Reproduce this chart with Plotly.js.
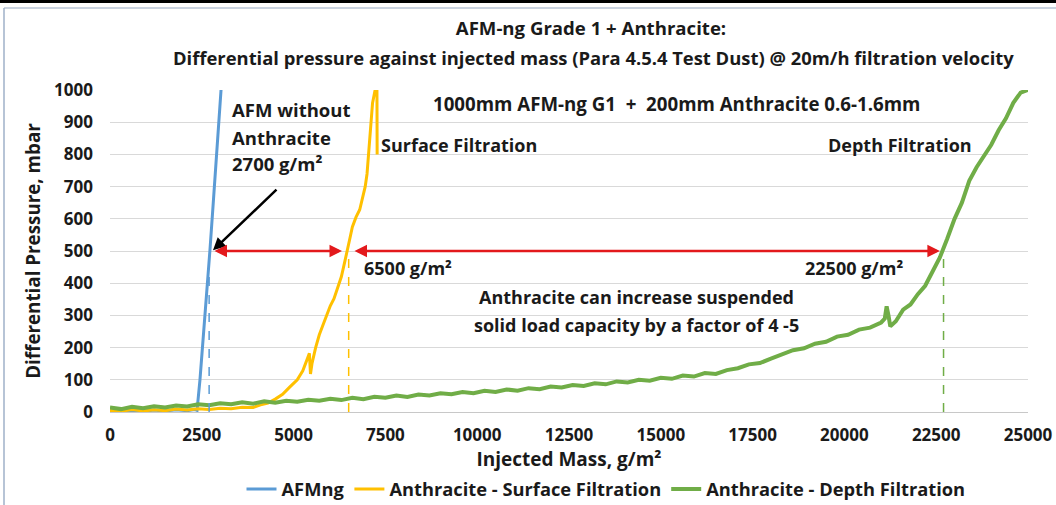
<!DOCTYPE html>
<html><head><meta charset="utf-8">
<script src="https://cdn.plot.ly/plotly-3.0.1.min.js"></script>
<style>html,body{margin:0;padding:0;background:#fff;}#chart{width:1056px;height:505px;}</style>
</head><body><div id="chart"></div>
<script>
// ---- data ----
const seriesNames = ['AFMng', 'Anthracite - Surface Filtration', 'Anthracite - Depth Filtration'];

const afmX = [0, 300, 600, 900, 1200, 1500, 1800, 2100, 2300, 2370, 2450, 2550, 2650, 2720, 2800, 2900, 3020, 3060];
const afmY = [3, 0, 5, 2, 6, 3, 7, 4, 8, 5, 100, 240, 400, 500, 630, 800, 1000, 1060];

const surfX = [0, 300, 600, 900, 1200, 1500, 1800, 2100, 2400, 2700, 3000, 3300, 3600, 3900, 4100, 4300, 4500, 4700, 4900, 5100, 5250, 5350, 5430, 5460, 5500, 5600, 5700, 5800, 5900, 6000, 6100, 6200, 6300, 6400, 6450, 6500, 6550, 6600, 6700, 6800, 6850, 6950, 7000, 7050, 7100, 7150, 7220, 7250, 7270, 7275];
const surfY = [5, 2, 8, 3, 7, 4, 9, 6, 10, 8, 12, 10, 15, 14, 22, 28, 40, 55, 78, 100, 128, 158, 182, 118, 150, 200, 240, 270, 300, 330, 352, 385, 420, 470, 500, 520, 548, 575, 605, 628, 650, 700, 740, 820, 900, 960, 1000, 1080, 1000, 800];

const depthX = [0, 300, 600, 900, 1200, 1500, 1800, 2100, 2400, 2700, 3000, 3300, 3600, 3900, 4200, 4500, 4800, 5100, 5400, 5700, 6000, 6300, 6600, 6900, 7200, 7500, 7800, 8100, 8400, 8700, 9000, 9300, 9600, 9900, 10200, 10500, 10800, 11100, 11400, 11700, 12000, 12300, 12600, 12900, 13200, 13500, 13800, 14100, 14400, 14700, 15000, 15300, 15600, 15900, 16200, 16500, 16800, 17100, 17400, 17700, 18000, 18300, 18600, 18900, 19200, 19500, 19800, 20100, 20400, 20700, 21000, 21100, 21150, 21200, 21250, 21400, 21600, 21800, 22000, 22200, 22400, 22600, 22800, 23000, 23200, 23400, 23600, 23800, 24000, 24200, 24400, 24600, 24800, 25000];
const depthY = [14, 9, 16, 12, 18, 14, 20, 17, 24, 21, 27, 24, 30, 26, 33, 29, 35, 32, 38, 35, 41, 37, 44, 40, 47, 44, 51, 47, 54, 51, 58, 55, 62, 58, 66, 62, 70, 66, 74, 71, 79, 76, 84, 81, 89, 86, 95, 92, 100, 97, 106, 103, 113, 110, 121, 118, 130, 136, 148, 152, 166, 178, 192, 198, 212, 218, 234, 240, 256, 262, 278, 290, 328, 300, 266, 282, 318, 334, 366, 392, 436, 480, 538, 600, 650, 718, 760, 795, 830, 875, 912, 960, 992, 1000];

// break-through points (g/m²) at the reference pressure (mbar)
const breakX = [2700, 6500, 22700];
const breakY = 500;

const xTicks = [0, 2500, 5000, 7500, 10000, 12500, 15000, 17500, 20000, 22500, 25000];
const yTicks = [0, 100, 200, 300, 400, 500, 600, 700, 800, 900, 1000];

// ---- styling ----
const colors = ['#5B9BD5', '#FFC000', '#70AD47'];
const FONT = 'Open Sans, Noto Sans, sans-serif';
const TXT = '#1a1a1a';

const traces = [
  {x: afmX, y: afmY, name: seriesNames[0], type: 'scatter', mode: 'lines', line: {color: colors[0], width: 3}},
  {x: surfX, y: surfY, name: seriesNames[1], type: 'scatter', mode: 'lines', line: {color: colors[1], width: 3}},
  {x: depthX, y: depthY, name: seriesNames[2], type: 'scatter', mode: 'lines', line: {color: colors[2], width: 4}}
];

// plot area geometry for paper-referenced frame shapes
const ML = 110, MR = 28, MT = 90, MB = 93, W = 1056, H = 505;
const PW = W - ML - MR, PH = H - MT - MB;
const px = v => (v - ML) / PW;
const py = v => (H - MB - v) / PH;

const shapes = breakX.map((bx, i) => ({
  type: 'line', xref: 'x', yref: 'y', x0: bx, x1: bx, y0: 0, y1: breakY,
  line: {color: colors[i], width: 1.5, dash: 'dash'}
}));
shapes.push({type: 'rect', xref: 'paper', yref: 'paper', x0: px(0), x1: px(W), y0: py(0), y1: py(3), fillcolor: '#000', line: {width: 0}, layer: 'above'});
shapes.push({type: 'line', xref: 'paper', yref: 'paper', x0: px(4), x1: px(W), y0: py(8), y1: py(8), line: {color: '#b8c4d6', width: 1.5}});
shapes.push({type: 'line', xref: 'paper', yref: 'paper', x0: px(4), x1: px(4), y0: py(8), y1: py(H), line: {color: '#9fb0c8', width: 1.5}});

function txt(text, x, y, size, anchor) {
  return {text: text, x: x, y: y, xref: 'x', yref: 'y', showarrow: false,
    xanchor: anchor || 'center', yanchor: 'middle',
    font: {family: FONT, size: size || 18, color: TXT, weight: 'bold'}};
}

const annotations = [
  // second title line
  {text: 'Differential pressure against injected mass (Para 4.5.4 Test Dust) @ 20m/h filtration velocity',
   xref: 'paper', yref: 'paper', x: px(593), y: py(57), showarrow: false, xanchor: 'center', yanchor: 'middle',
   font: {family: FONT, size: 18.4, color: TXT, weight: 'bold'}},
  txt('AFM without', 3268, 938, 18.5, 'left'),
  txt('Anthracite', 3268, 854, 18.5, 'left'),
  txt('2700 g/m²', 3268, 773, 18.5, 'left'),
  txt('Surface Filtration', 9505, 829, 18),
  txt('1000mm AFM-ng G1  +  200mm Anthracite 0.6-1.6mm', 15414, 959, 18.7),
  txt('Depth Filtration', 21514, 829, 18),
  txt('6500 g/m²', 8116, 446, 18),
  txt('22500 g/m²', 20261, 446, 18),
  txt('Anthracite can increase suspended', 14325, 356, 18),
  txt('solid load capacity by a factor of 4 -5', 14325, 269, 18),
  // black pointer
  {x: 2805, y: 502, ax: 4575, ay: 695, xref: 'x', yref: 'y', axref: 'x', ayref: 'y', text: '',
   showarrow: true, arrowhead: 2, arrowsize: 1, arrowwidth: 2.5, arrowcolor: '#000', standoff: 0},
  // red double arrows
  {x: 6318, y: breakY, ax: 2805, ay: breakY, xref: 'x', yref: 'y', axref: 'x', ayref: 'y', text: '',
   showarrow: true, arrowhead: 2, startarrowhead: 2, arrowside: 'end+start', arrowsize: 1, startarrowsize: 1,
   arrowwidth: 2.5, arrowcolor: '#E3191C', standoff: 0, startstandoff: 0},
  {x: 22600, y: breakY, ax: 6618, ay: breakY, xref: 'x', yref: 'y', axref: 'x', ayref: 'y', text: '',
   showarrow: true, arrowhead: 2, startarrowhead: 2, arrowside: 'end+start', arrowsize: 1, startarrowsize: 1,
   arrowwidth: 2.5, arrowcolor: '#E3191C', standoff: 0, startstandoff: 0}
];

const layout = {
  width: W, height: H,
  margin: {l: ML, r: MR, t: MT, b: MB, autoexpand: false},
  paper_bgcolor: '#fff', plot_bgcolor: '#fff',
  font: {family: FONT, color: TXT},
  title: {text: 'AFM-ng Grade 1 + Anthracite:', x: 591 / W, xref: 'container', xanchor: 'center',
          y: 1 - 28 / H, yref: 'container', yanchor: 'middle',
          font: {family: FONT, size: 18.6, color: TXT, weight: 'bold'}},
  xaxis: {range: [0, 25000], tickvals: xTicks, ticktext: xTicks.map(String), showgrid: false, zeroline: false,
          showline: true, linecolor: '#c8c8c8', linewidth: 1, ticks: '', ticklabelstandoff: 8,
          tickfont: {family: FONT, size: 17, color: TXT, weight: 'bold'},
          title: {text: 'Injected Mass, g/m²', standoff: 3, font: {family: FONT, size: 19, color: TXT, weight: 'bold'}}},
  yaxis: {range: [0, 1000], tickvals: yTicks, ticktext: yTicks.map(String), showgrid: true, gridcolor: '#d9d9d9',
          gridwidth: 1, zeroline: false, showline: false, ticks: '', ticklabelstandoff: 16,
          tickfont: {family: FONT, size: 17, color: TXT, weight: 'bold'},
          title: {text: 'Differential Pressure, mbar', standoff: 8, font: {family: FONT, size: 18.8, color: TXT, weight: 'bold'}}},
  showlegend: true,
  legend: {orientation: 'h', x: px(606), xanchor: 'center', y: py(489), yanchor: 'middle',
           font: {family: FONT, size: 18.3, color: TXT, weight: 'bold'}, bgcolor: 'rgba(0,0,0,0)', itemwidth: 30,
           tracegroupgap: 0},
  shapes: shapes,
  annotations: annotations
};

Plotly.newPlot('chart', traces, layout, {staticPlot: true, displayModeBar: false});
</script></body></html>
